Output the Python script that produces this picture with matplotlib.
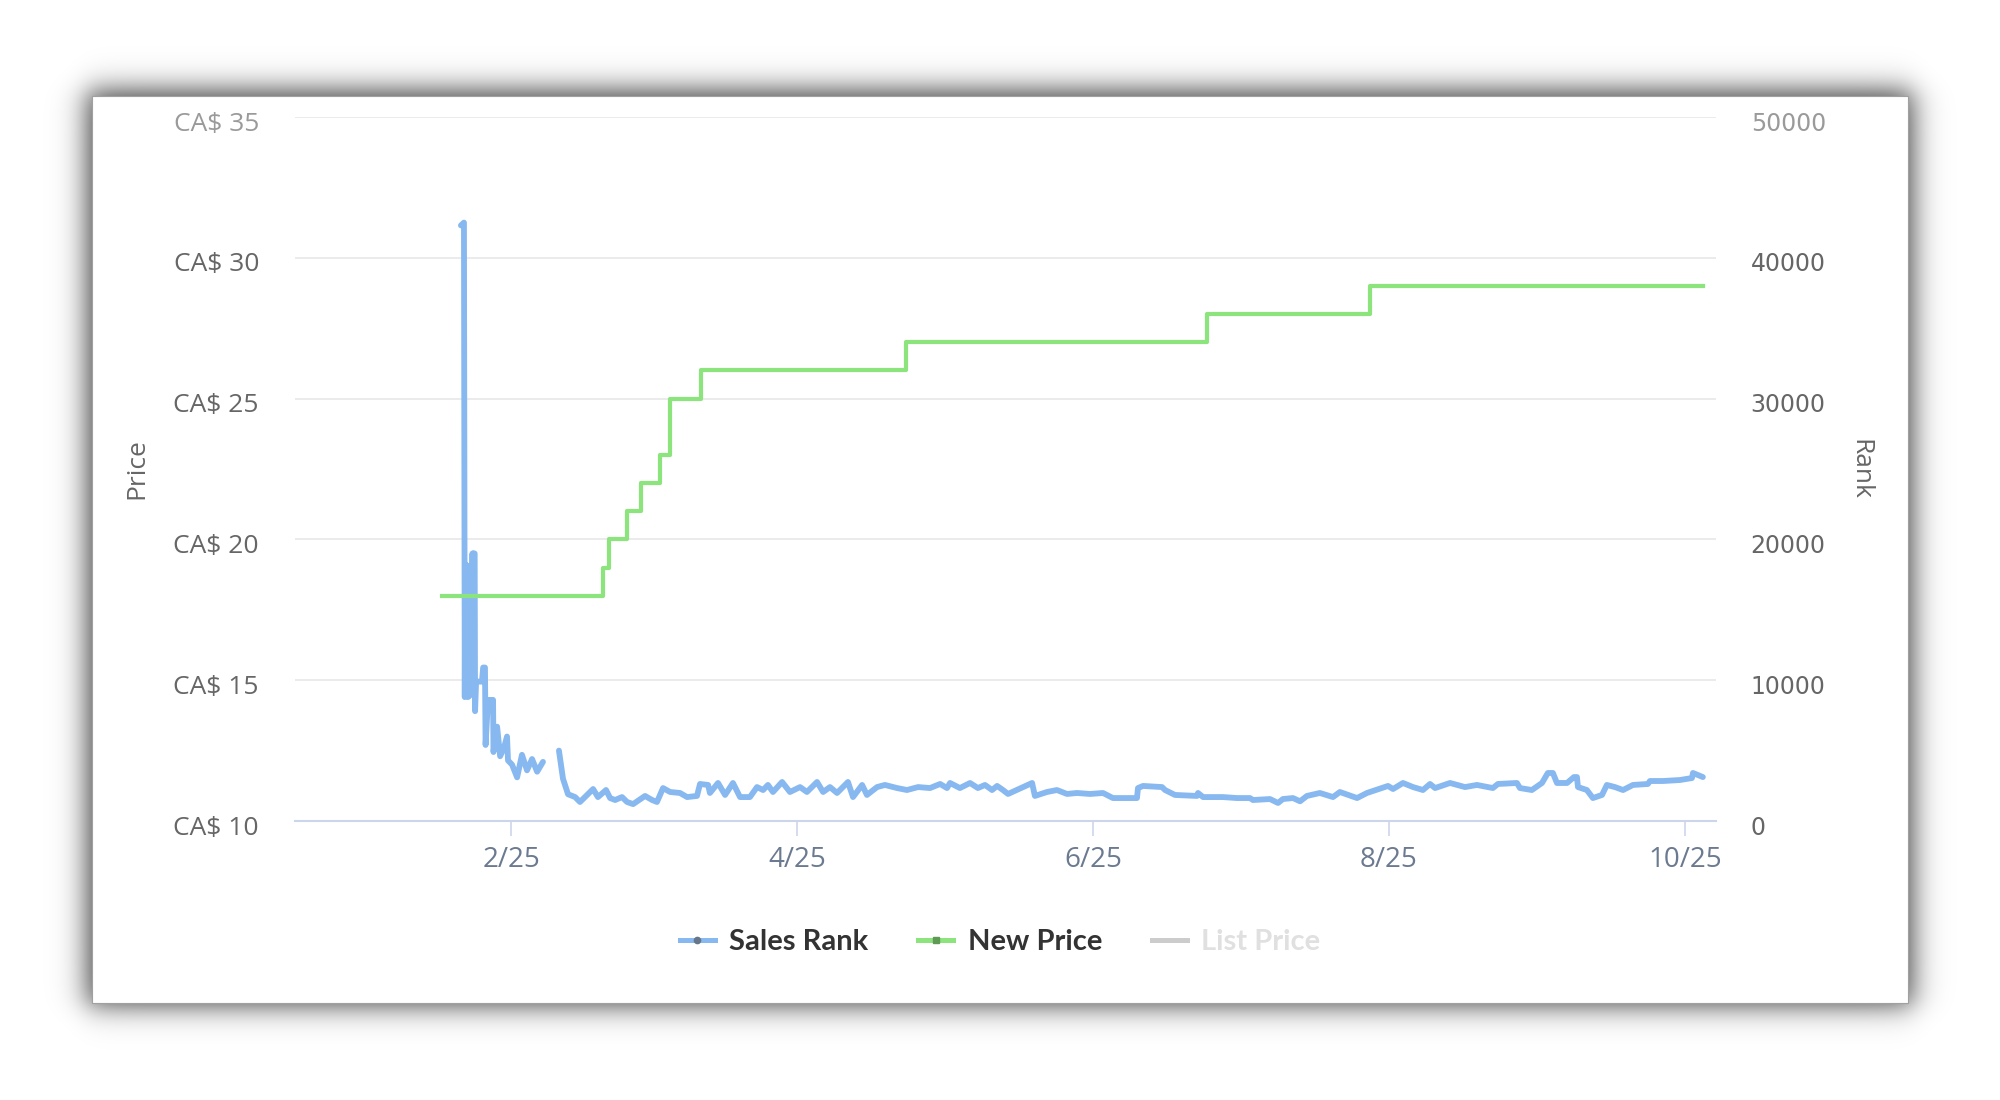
import numpy as np
import pandas as pd
import matplotlib
matplotlib.use("Agg")
import matplotlib.pyplot as plt
import matplotlib.dates as mdates
import matplotlib.transforms as mtransforms
from matplotlib.lines import Line2D
from matplotlib.patches import Rectangle
from matplotlib.ticker import FuncFormatter

plt.rcParams['font.family'] = ['Open Sans', 'DejaVu Sans']

# ---- data ----
price_dates = ["2025-01-17 19:00", "2025-02-19 23:00", "2025-02-21 05:00", "2025-02-24 22:00",
               "2025-02-27 19:00", "2025-03-03 17:00", "2025-03-05 19:00", "2025-03-12 04:00",
               "2025-04-23 10:00", "2025-06-24 12:00", "2025-07-28 02:00", "2025-10-04 17:00"]
new_price = [18, 19, 20, 21, 22, 23, 25, 26, 27, 28, 29, 29]

rank_dates = [
    "2025-01-21 16:00", "2025-01-22 07:00", "2025-01-22 11:00", "2025-01-22 13:00",
    "2025-01-22 15:00", "2025-01-22 17:00", "2025-01-22 19:00", "2025-01-22 21:00",
    "2025-01-22 23:00", "2025-01-23 01:00", "2025-01-23 03:00", "2025-01-23 05:00",
    "2025-01-23 07:00", "2025-01-23 09:00", "2025-01-23 11:00", "2025-01-23 13:00",
    "2025-01-23 15:00", "2025-01-23 17:00", "2025-01-23 19:00", "2025-01-23 21:00",
    "2025-01-23 23:00", "2025-01-24 01:00", "2025-01-24 03:00", "2025-01-24 05:00",
    "2025-01-24 07:00", "2025-01-24 09:00", "2025-01-24 12:00", "2025-01-24 14:00",
    "2025-01-24 19:00", "2025-01-26 00:00", "2025-01-26 06:00", "2025-01-26 15:00",
    "2025-01-26 18:00", "2025-01-27 06:00", "2025-01-28 07:00", "2025-01-28 09:00",
    "2025-01-29 03:00", "2025-01-29 18:00", "2025-01-30 13:00", "2025-01-31 04:00",
    "2025-01-31 09:00", "2025-02-01 05:00", "2025-02-02 06:00", "2025-02-03 06:00",
    "2025-02-04 07:00", "2025-02-05 08:00", "2025-02-06 09:00", "2025-02-07 14:00",
    "2025-02-09 00:00",
    "2025-02-10 21:00", "2025-02-11 17:00", "2025-02-12 18:00", "2025-02-14 05:00",
    "2025-02-15 05:00", "2025-02-16 16:00", "2025-02-17 22:00", "2025-02-18 22:00",
    "2025-02-20 14:00", "2025-02-21 10:00", "2025-02-22 11:00", "2025-02-23 21:00",
    "2025-02-24 22:00", "2025-02-26 04:00", "2025-02-28 15:00", "2025-03-02 02:00",
    "2025-03-03 02:00", "2025-03-04 08:00", "2025-03-05 19:00", "2025-03-07 20:00",
    "2025-03-09 07:00", "2025-03-11 08:00", "2025-03-11 23:00", "2025-03-13 15:00",
    "2025-03-14 00:00", "2025-03-15 16:00", "2025-03-17 03:00", "2025-03-18 18:00",
    "2025-03-20 05:00", "2025-03-22 06:00", "2025-03-23 17:00", "2025-03-24 23:00",
    "2025-03-25 23:00", "2025-03-27 00:00", "2025-03-28 21:00", "2025-03-30 12:00",
    "2025-04-01 14:00", "2025-04-03 00:00", "2025-04-05 02:00", "2025-04-06 08:00",
    "2025-04-07 18:00", "2025-04-09 05:00", "2025-04-11 11:00", "2025-04-12 12:00",
    "2025-04-14 09:00", "2025-04-15 09:00", "2025-04-17 11:00", "2025-04-19 02:00",
    "2025-04-21 14:00", "2025-04-23 15:00", "2025-04-25 22:00", "2025-04-28 09:00",
    "2025-04-30 11:00", "2025-05-01 21:00", "2025-05-02 12:00", "2025-05-04 13:00",
    "2025-05-06 15:00", "2025-05-08 06:00", "2025-05-09 17:00", "2025-05-11 04:00",
    "2025-05-12 05:00", "2025-05-13 10:00", "2025-05-14 11:00", "2025-05-19 10:00",
    "2025-05-20 00:00", "2025-05-22 12:00", "2025-05-24 13:00", "2025-05-26 15:00",
    "2025-05-28 16:00", "2025-05-31 09:00", "2025-06-03 01:00", "2025-06-05 02:00",
    "2025-06-10 01:00", "2025-06-10 06:00", "2025-06-11 07:00", "2025-06-15 05:00",
    "2025-06-15 20:00", "2025-06-17 21:00", "2025-06-22 10:00", "2025-06-22 15:00",
    "2025-06-23 16:00", "2025-06-27 18:00", "2025-06-30 16:00", "2025-07-03 08:00",
    "2025-07-03 23:00", "2025-07-07 11:00", "2025-07-09 03:00", "2025-07-10 03:00",
    "2025-07-12 05:00", "2025-07-13 16:00", "2025-07-15 02:00", "2025-07-17 18:00",
    "2025-07-20 11:00", "2025-07-21 21:00", "2025-07-25 10:00", "2025-07-27 11:00",
    "2025-07-31 19:00", "2025-08-01 20:00", "2025-08-03 21:00", "2025-08-05 23:00",
    "2025-08-08 00:00", "2025-08-09 11:00", "2025-08-10 12:00", "2025-08-13 14:00",
    "2025-08-16 16:00", "2025-08-19 03:00", "2025-08-22 10:00", "2025-08-23 11:00",
    "2025-08-27 09:00", "2025-08-28 00:00", "2025-08-30 11:00", "2025-09-01 13:00",
    "2025-09-02 18:00", "2025-09-03 19:00", "2025-09-04 15:00", "2025-09-06 17:00",
    "2025-09-08 03:00", "2025-09-08 18:00", "2025-09-08 23:00", "2025-09-10 19:00",
    "2025-09-12 01:00", "2025-09-13 22:00", "2025-09-14 22:00", "2025-09-16 14:00",
    "2025-09-18 06:00", "2025-09-20 07:00", "2025-09-23 09:00", "2025-09-23 19:00",
    "2025-09-26 11:00", "2025-09-29 23:00", "2025-10-02 11:00", "2025-10-02 16:00",
    "2025-10-04 17:00",
]
sales_rank = [
    42300, 42500, 8800, 17800,
    9000, 18200, 8900, 17600,
    9200, 18000, 8800, 17400,
    9100, 18100, 8900, 17500,
    9300, 18000, 9000, 17800,
    9200, 19000, 9500, 19000,
    9800, 19000, 19000, 7800,
    9900, 9900, 10900, 10900,
    5400, 8600, 8600, 4900,
    6700, 4600, 5200, 6000,
    4300, 4000, 3100, 4700,
    3600, 4400, 3500, 4200,
    np.nan,
    5000, 3000, 1900, 1700,
    1350, 1850, 2270, 1700,
    2200, 1630, 1490, 1700,
    1350, 1200, 1780, 1490,
    1350, 2340, 2060, 1990,
    1700, 1780, 2630, 2560,
    1990, 2700, 1850, 2700,
    1700, 1700, 2410, 2200,
    2560, 2060, 2770, 2060,
    2410, 2060, 2770, 2060,
    2410, 1990, 2770, 1700,
    2560, 1850, 2410, 2560,
    2340, 2200, 2410, 2340,
    2630, 2340, 2700, 2340,
    2700, 2340, 2560, 2200,
    2490, 2200, 1920, 2700,
    1780, 2060, 2200, 1920,
    1990, 1920, 1990, 1630,
    1630, 2340, 2490, 2410,
    2200, 1850, 1780, 1990,
    1700, 1700, 1630, 1630,
    1490, 1560, 1280, 1560,
    1630, 1400, 1780, 1990,
    1700, 2060, 1630, 1990,
    2490, 2270, 2700, 2410,
    2200, 2630, 2340, 2700,
    2410, 2560, 2340, 2630,
    2700, 2340, 2200, 2700,
    3410, 3410, 2700, 2700,
    3120, 3120, 2410, 2200,
    1630, 1850, 2560, 2410,
    2200, 2560, 2630, 2840,
    2840, 2910, 3050, 3410,
    3120,
]

price_ticks = [10, 15, 20, 25, 30, 35]
price_labels = ["CA$ 10", "CA$ 15", "CA$ 20", "CA$ 25", "CA$ 30", "CA$ 35"]
rank_ticks = [0, 10000, 20000, 30000, 40000, 50000]
rank_labels = ["0", "10000", "20000", "30000", "40000", "50000"]
x_range = ["2024-12-18 11:00", "2025-10-07 10:00"]

BLUE = '#88b8f0'
GREEN = '#8ce47c'

fig = plt.figure(figsize=(20, 11), dpi=100)

# card with drop shadow
W, H = 2000, 1100
cx0, cy0, cx1, cy1 = 92, 96, 1908, 1003
bg = fig.add_axes([0, 0, 1, 1])
yy, xx = np.mgrid[0:H, 0:W] + 0.5
s = 17.0
fx = 0.5 * (np.tanh((xx - (cx0 - 5)) / s) - np.tanh((xx - (cx1 + 5)) / s))
fy = 0.5 * (np.tanh((yy - (cy0 - 6)) / s) - np.tanh((yy - (cy1 + 3)) / s))
shadow = np.zeros((H, W, 4))
shadow[..., 3] = 0.72 * fx * fy
bg.imshow(shadow, extent=(0, W, H, 0), interpolation='bilinear')
bg.add_patch(Rectangle((cx0, cy0), cx1 - cx0, cy1 - cy0, facecolor='white',
                       edgecolor='#a0a0a0', lw=0.8))
bg.set_xlim(0, W)
bg.set_ylim(H, 0)
bg.axis('off')

# chart: rank axis underneath, price twin on top
ax = fig.add_axes([295 / W, 1 - 821 / H, 1421 / W, 704 / H])
ax.patch.set_alpha(0)
axp = ax.twinx()
axp.patch.set_alpha(0)

rd = pd.to_datetime(rank_dates)
pdt = pd.to_datetime(price_dates)

ax.plot(rd, sales_rank, color=BLUE, lw=4.2, solid_joinstyle='round', solid_capstyle='round')
axp.plot(pdt, new_price, color=GREEN, lw=3.0, drawstyle='steps-post')

ax.set_xlim(pd.to_datetime(x_range[0]), pd.to_datetime(x_range[1]))
ax.set_ylim(0, 50000)
axp.set_ylim(10, 35)

ax.grid(axis='y', color='#e6e6e6', lw=1.1)
ax.set_axisbelow(True)
for sp in ax.spines.values():
    sp.set_visible(False)
for sp in axp.spines.values():
    sp.set_visible(False)
ax.spines['bottom'].set_visible(True)
ax.spines['bottom'].set_color('#ccd6eb')
ax.spines['bottom'].set_linewidth(1.5)

ax.xaxis.set_major_locator(mdates.MonthLocator(bymonth=[2, 4, 6, 8, 10]))
ax.xaxis.set_major_formatter(FuncFormatter(
    lambda v, p: "{}/{}".format(mdates.num2date(v).month, mdates.num2date(v).strftime('%y'))))
ax.tick_params(axis='x', length=11, width=1.2, color='#ccd6eb', labelcolor='#6b7a90',
               labelsize=20, pad=7)

ax.yaxis.tick_right()
ax.set_yticks(rank_ticks, labels=rank_labels, fontfamily='DejaVu Sans')
ax.tick_params(axis='y', length=0, labelsize=17, labelcolor='#666666', pad=25)
axp.yaxis.tick_left()
axp.set_yticks(price_ticks, labels=price_labels)
axp.tick_params(axis='y', length=0, labelsize=19, labelcolor='#666666', pad=26, right=False)
ax.get_yticklabels()[-1].set_color('#9a9a9a')
axp.get_yticklabels()[-1].set_color('#9a9a9a')

# labels sit a little below their grid lines, as in the original
shift = mtransforms.ScaledTranslation(0, -3 / 72, fig.dpi_scale_trans)
for lbl in ax.get_yticklabels() + axp.get_yticklabels():
    lbl.set_transform(lbl.get_transform() + shift)

fig.text(137 / W, 1 - 469 / H, 'Price', rotation=90, ha='center', va='center',
         fontsize=19, color='#666666')
fig.text(1860 / W, 1 - 469 / H, 'Rank', rotation=270, ha='center', va='center',
         fontsize=19, color='#666666')

handles = [
    Line2D([], [], color=BLUE, lw=3.6, marker='o', ms=4.5, mfc='#66778a', mec='#66778a'),
    Line2D([], [], color=GREEN, lw=3.6, marker='s', ms=4, mfc='#5f9a55', mec='#5f9a55'),
    Line2D([], [], color='#cccccc', lw=3.6),
]
leg = fig.legend(handles, ['Sales Rank', 'New Price', 'List Price'], loc='center',
                 bbox_to_anchor=(0.5, 1 - 942 / H), ncol=3, frameon=False,
                 handlelength=1.2, handletextpad=0.5, columnspacing=1.7,
                 prop={'family': 'Lato', 'weight': 'bold', 'size': 21})
for t, c in zip(leg.get_texts(), ['#333333', '#333333', '#e0e0e0']):
    t.set_color(c)

fig.savefig('out.png', dpi=100)
